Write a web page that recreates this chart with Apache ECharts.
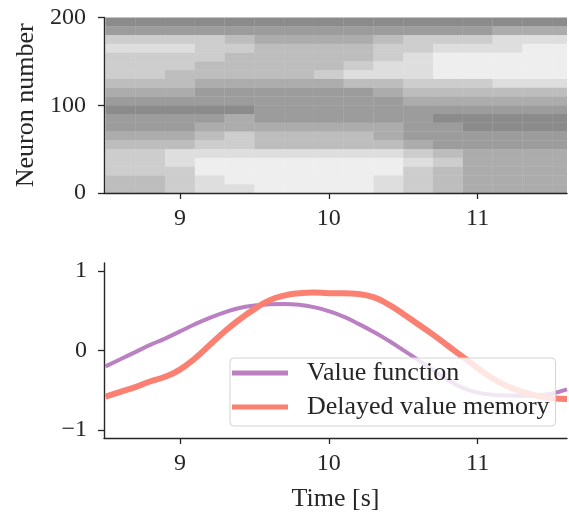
<!DOCTYPE html>
<html><head><meta charset="utf-8">
<script src="https://cdn.jsdelivr.net/npm/echarts@6/dist/echarts.min.js"></script>
<style>html,body{margin:0;padding:0;background:#fff}#c{width:569px;height:513px}</style>
</head><body><div id="c"></div>
<script>
// ---- Raster (spike density, 0 = empty .. 7 = dense) ----
const rasterTimeEdges = [8.5,8.7,8.9,9.1,9.3,9.5,9.7,9.9,10.1,10.3,10.5,10.7,10.9,11.1,11.3,11.5,11.7];
const neuronBandEdges = [0,10,20,30,40,50,60,70,80,90,100,110,120,130,140,150,160,170,180,190,200];
// rows listed from top band (190-200) down to bottom band (0-10)
const spikeDensityTopDown = [
  [7,7,7,7,7,7,7,7,7,7,7,7,7,7,7,7],
  [6,6,6,6,6,6,6,6,6,6,6,6,6,5,5,5],
  [3,3,3,3,4,5,5,5,5,4,3,3,3,2,2,2],
  [2,2,2,3,3,4,4,4,4,3,3,2,2,2,1,1],
  [3,3,3,3,4,4,4,4,4,3,2,1,1,1,1,1],
  [3,3,3,4,4,4,4,4,3,2,2,1,1,1,1,1],
  [3,3,4,4,4,4,4,3,2,2,2,1,1,1,1,1],
  [4,4,4,5,5,5,5,5,4,4,3,3,3,2,2,2],
  [5,5,5,6,6,6,6,6,6,5,4,4,4,4,4,4],
  [6,6,6,6,6,6,6,6,6,6,5,5,5,5,5,5],
  [7,7,7,7,7,6,6,6,6,6,6,6,6,6,6,6],
  [6,6,6,6,5,6,6,6,6,6,6,7,7,7,7,7],
  [6,6,6,5,5,5,5,5,5,5,6,6,7,7,7,7],
  [5,5,5,4,3,4,4,4,4,5,6,6,6,6,6,6],
  [4,4,4,3,3,4,4,4,4,4,5,6,6,6,6,6],
  [3,3,2,2,2,2,2,2,2,2,3,4,5,5,5,5],
  [3,3,2,1,1,1,1,1,1,1,2,3,5,5,5,5],
  [3,3,3,1,1,1,1,1,1,1,3,4,5,5,5,5],
  [4,4,3,2,1,1,1,1,1,2,3,4,5,5,5,5],
  [4,4,3,2,2,1,1,1,1,2,3,4,5,5,5,5]
];
const rasterYTicks = [0,100,200];

// ---- Lower panel ----
const timeSteps = [8.5,8.6,8.7,8.8,8.9,9.0,9.1,9.2,9.3,9.4,9.5,9.6,9.7,9.8,9.9,10.0,10.1,10.2,10.3,10.4,10.5,10.6,10.7,10.8,10.9,11.0,11.1,11.2,11.3,11.4,11.5,11.6];
const valueFunction = [-0.20,-0.11,-0.02,0.07,0.15,0.24,0.33,0.41,0.48,0.535,0.565,0.58,0.585,0.575,0.545,0.495,0.425,0.335,0.235,0.125,0.005,-0.12,-0.245,-0.37,-0.47,-0.53,-0.555,-0.565,-0.57,-0.565,-0.54,-0.49];
const delayedMemory = [-0.58,-0.52,-0.46,-0.39,-0.33,-0.24,-0.10,0.07,0.24,0.39,0.52,0.63,0.69,0.72,0.73,0.72,0.72,0.71,0.67,0.58,0.46,0.33,0.20,0.06,-0.08,-0.22,-0.35,-0.45,-0.52,-0.57,-0.60,-0.61];
const timeTicks = [9,10,11];
const valueTicks = [-1,0,1];
const seriesNames = ['Value function','Delayed value memory'];

const FONT = 'Liberation Serif';
const INK = '#262626';
const nb = spikeDensityTopDown.length;
const rasterData = [];
for (let r = 0; r < nb; r++) {
  const band = nb - 1 - r;
  const row = spikeDensityTopDown[r];
  for (let c = 0; c < row.length; c++) {
    rasterData.push([rasterTimeEdges[c], rasterTimeEdges[c+1], neuronBandEdges[band], neuronBandEdges[band+1], row[c]]);
  }
}
const fmtMinus = v => (v < 0 ? '\u2212' + Math.abs(v) : String(v));
const axisCommon = {
  axisLine: {show: true, onZero: false, lineStyle: {color: INK, width: 1.4}},
  axisTick: {show: true, inside: false, length: 6, lineStyle: {color: INK, width: 1.3}},
  splitLine: {show: false},
  axisLabel: {color: INK, fontFamily: FONT, fontSize: 24}
};
const chart = echarts.init(document.getElementById('c'), null, {renderer: 'canvas'});
chart.setOption({
  backgroundColor: '#fff',
  animation: false,
  grid: [
    {left: 104, top: 17.5, width: 463, height: 175.5},
    {left: 104, top: 263, width: 463, height: 176}
  ],
  xAxis: [
    Object.assign({}, axisCommon, {gridIndex: 0, type: 'value', min: 8.49, max: 11.6,
      axisTick: Object.assign({}, axisCommon.axisTick, {customValues: timeTicks}),
      axisLabel: Object.assign({}, axisCommon.axisLabel, {margin: 14, customValues: timeTicks})}),
    Object.assign({}, axisCommon, {gridIndex: 1, type: 'value', min: 8.49, max: 11.6,
      name: 'Time [s]', nameLocation: 'middle', nameGap: 48,
      nameTextStyle: {color: INK, fontFamily: FONT, fontSize: 26},
      axisTick: Object.assign({}, axisCommon.axisTick, {customValues: timeTicks}),
      axisLabel: Object.assign({}, axisCommon.axisLabel, {margin: 14, customValues: timeTicks})})
  ],
  yAxis: [
    Object.assign({}, axisCommon, {gridIndex: 0, type: 'value', min: 0, max: 200,
      name: 'Neuron number', nameLocation: 'middle', nameGap: 61, nameRotate: 90,
      nameTextStyle: {color: INK, fontFamily: FONT, fontSize: 26},
      axisTick: Object.assign({}, axisCommon.axisTick, {customValues: rasterYTicks}),
      axisLabel: Object.assign({}, axisCommon.axisLabel, {margin: 18, customValues: rasterYTicks})}),
    Object.assign({}, axisCommon, {gridIndex: 1, type: 'value', min: -1.1, max: 1.1,
      axisTick: Object.assign({}, axisCommon.axisTick, {customValues: valueTicks}),
      axisLabel: Object.assign({}, axisCommon.axisLabel, {margin: 17, customValues: valueTicks, formatter: fmtMinus})})
  ],
  legend: {
    data: seriesNames,
    orient: 'vertical',
    left: 230, top: 358,
    icon: 'rect', itemWidth: 56, itemHeight: 5, itemGap: 4,
    padding: [0, 6, 4, 2],
    backgroundColor: 'rgba(255,255,255,0.8)',
    borderColor: '#d4d4d4', borderWidth: 1, borderRadius: 4,
    textStyle: {color: INK, fontFamily: FONT, fontSize: 26, lineHeight: 30, padding: [0, 0, 0, 14]}
  },
  series: [
    {
      type: 'custom', xAxisIndex: 0, yAxisIndex: 0,
      data: rasterData,
      encode: {x: [0, 1], y: [2, 3]},
      renderItem: function (params, api) {
        const p0 = api.coord([api.value(0), api.value(3)]);
        const p1 = api.coord([api.value(1), api.value(2)]);
        const cs = params.coordSys;
        const rect = echarts.graphic.clipRectByRect(
          {x: p0[0], y: p0[1], width: p1[0] - p0[0], height: p1[1] - p0[1]},
          {x: cs.x, y: cs.y, width: cs.width, height: cs.height});
        if (!rect) return;
        return {type: 'rect', shape: rect, style: {fill: 'rgba(0,0,0,' + (api.value(4) * 0.065) + ')'}};
      },
      silent: true
    },
    {
      name: seriesNames[0], type: 'line', xAxisIndex: 1, yAxisIndex: 1,
      data: timeSteps.map((t, i) => [t, valueFunction[i]]),
      showSymbol: false, smooth: true, color: '#bb80c1',
      lineStyle: {width: 4, color: '#bb80c1'}
    },
    {
      name: seriesNames[1], type: 'line', xAxisIndex: 1, yAxisIndex: 1,
      data: timeSteps.map((t, i) => [t, delayedMemory[i]]),
      showSymbol: false, smooth: true, color: '#fa8072',
      lineStyle: {width: 6, color: '#fa8072'}
    }
  ]
});
</script>
</body></html>
